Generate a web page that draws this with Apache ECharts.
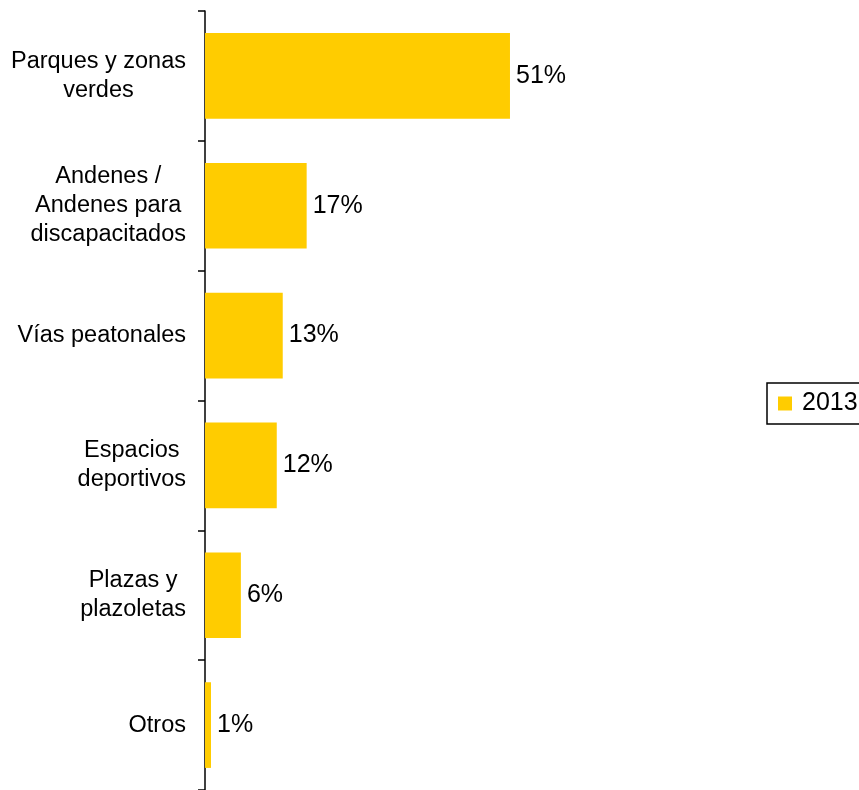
<!DOCTYPE html>
<html>
<head>
<meta charset="utf-8">
<script src="https://cdn.jsdelivr.net/npm/echarts@6/dist/echarts.min.js"></script>
<style>html,body{margin:0;padding:0;background:#fff;}#c{width:859px;height:790px;}</style>
</head>
<body>
<div id="c"></div>
<script>
const categories = ["Parques y zonas\nverdes", "Andenes /\nAndenes para\ndiscapacitados", "Vías peatonales", "Espacios\ndeportivos", "Plazas y\nplazoletas", "Otros"];
const values2013 = [51, 17, 13, 12, 6, 1];
const seriesName = "2013";

const chart = echarts.init(document.getElementById('c'), null, {renderer: 'canvas'});
const FONT = "'Liberation Sans', Arial, sans-serif";
chart.setOption({
  animation: false,
  backgroundColor: '#ffffff',
  grid: {left: 205, top: 11, width: 598, height: 781, containLabel: false},
  xAxis: {type: 'value', min: 0, max: 100, show: false},
  yAxis: {
    type: 'category', data: categories, inverse: true,
    axisLine: {show: true, lineStyle: {color: '#000', width: 1.5}},
    axisTick: {show: true, inside: false, length: 7, alignWithLabel: false, lineStyle: {color: '#000', width: 1.5}},
    axisLabel: {
      margin: 19, color: '#000',
      formatter: function (v) { return v.split('\n').map(l => '{c|' + l + '}').join('\n'); },
      rich: {c: {align: 'center', fontSize: 23.5, lineHeight: 29, fontFamily: FONT, color: '#000'}}
    },
    splitLine: {show: false}
  },
  legend: {
    show: true, left: 767, top: 383, orient: 'vertical',
    data: [seriesName],
    icon: 'rect', itemWidth: 14, itemHeight: 14,
    padding: [8, 10, 8, 11],
    borderColor: '#000', borderWidth: 1.5,
    textStyle: {fontSize: 25, lineHeight: 25, fontFamily: FONT, color: '#000', padding: [0, 0, 0, 5]}
  },
  series: [{
    name: seriesName, type: 'bar', data: values2013,
    barCategoryGap: '34%',
    itemStyle: {color: '#FFCC00'},
    label: {show: true, position: 'right', distance: 6, formatter: '{c}%', fontSize: 25, fontFamily: FONT, color: '#000'}
  }]
});
</script>
</body>
</html>
